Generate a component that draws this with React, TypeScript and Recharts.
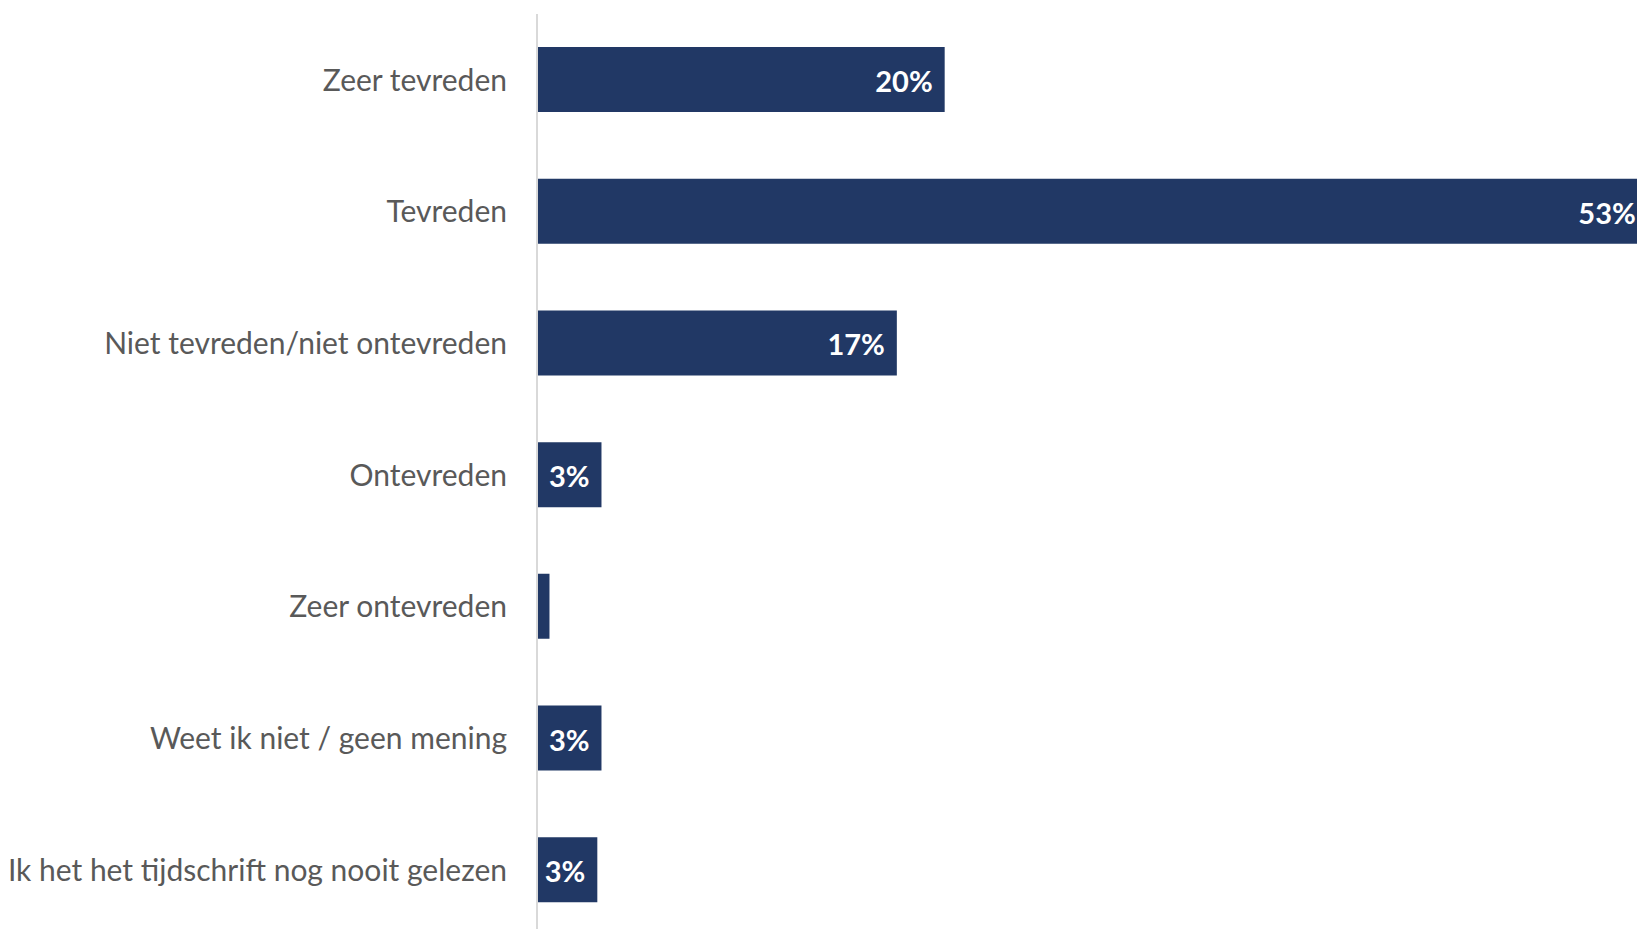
import { BarChart, Bar, XAxis, YAxis, LabelList } from 'recharts';

// categorieën en waarden (in %)
const categories = [
  'Zeer tevreden',
  'Tevreden',
  'Niet tevreden/niet ontevreden',
  'Ontevreden',
  'Zeer ontevreden',
  'Weet ik niet / geen mening',
  'Ik het het tijdschrift nog nooit gelezen',
];
const values = [19.6, 53.4, 17.3, 3.1, 0.6, 3.1, 2.9];
const valueLabels = ['20%', '53%', '17%', '3%', '', '3%', '3%'];

const chartData = categories.map((category, i) => ({
  category,
  value: values[i],
  label: valueLabels[i],
}));

const BAR_COLOR = '#213865';

const renderValueLabel = (props: any) => {
  const { x, y, width, height, value } = props;
  if (!value) return null;
  return (
    <text
      x={Number(x) + Number(width) - 12}
      y={Number(y) + Number(height) / 2 + 1}
      textAnchor="end"
      dominantBaseline="central"
      fill="#ffffff"
      fontFamily="Lato"
      fontWeight={700}
      fontSize={29}
    >
      {value}
    </text>
  );
};

export default function App() {
  return (
    <div
      style={{
        position: 'fixed',
        left: 0,
        top: 0,
        width: 1637,
        height: 929,
        overflow: 'hidden',
        background: '#ffffff',
      }}
    >
      <BarChart
        width={1800}
        height={950}
        data={chartData}
        layout="vertical"
        margin={{ top: 14, right: 15, bottom: 14, left: 0 }}
        barSize={65}
      >
        <XAxis type="number" domain={[0, 60]} hide />
        <YAxis
          type="category"
          dataKey="category"
          width={537}
          axisLine={{ stroke: '#d9d9d9', strokeWidth: 2 }}
          tickLine={false}
          tickMargin={24}
          tick={{ fill: '#595959', fontSize: 30, fontFamily: 'Lato' }}
          interval={0}
        />
        <Bar dataKey="value" fill={BAR_COLOR} isAnimationActive={false}>
          <LabelList dataKey="label" content={renderValueLabel} />
        </Bar>
      </BarChart>
    </div>
  );
}
